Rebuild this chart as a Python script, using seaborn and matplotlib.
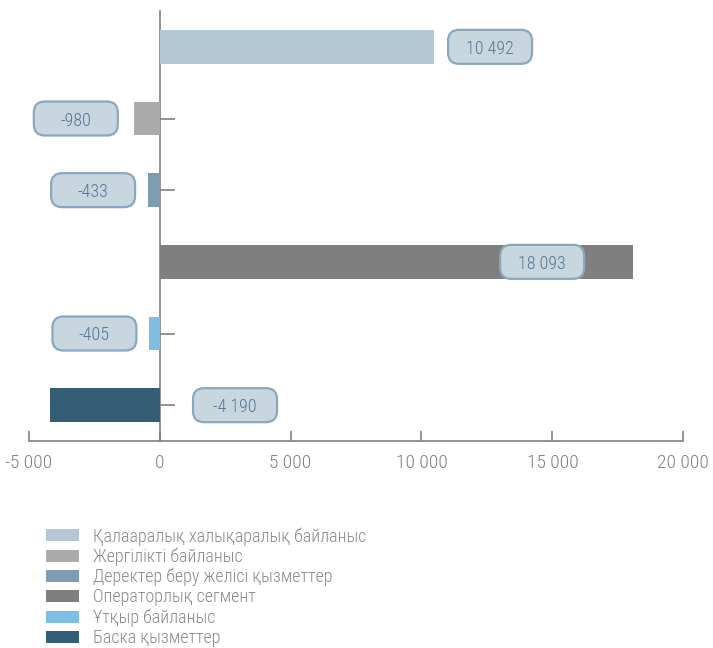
import matplotlib
matplotlib.use('Agg')
import matplotlib.pyplot as plt
from matplotlib.patches import FancyBboxPatch
import seaborn as sns
import pandas as pd

# данные
categories = ['Қалааралық халықаралық байланыс',
              'Жергілікті байланыс',
              'Деректер беру желісі қызметтер',
              'Операторлық сегмент',
              'Ұтқыр байланыс',
              'Баска қызметтер']
values = [10492, -980, -433, 18093, -405, -4190]
colors = ['#b4c7d4', '#aaaaaa', '#7f9db2', '#7f7f7f', '#80bde2', '#335e75']
x_ticks = [-5000, 0, 5000, 10000, 15000, 20000]

# где стоят подписи (центр рамки по x, в единицах данных)
label_x = [12620, -3200, -2540, 14610, -2490, 2880]

sns.set_style('white')
plt.rcParams['font.family'] = ['Roboto Condensed', 'DejaVu Sans']
plt.rcParams['font.weight'] = 'light'

df = pd.DataFrame({'cat': categories, 'val': values})

fig = plt.figure(figsize=(7.13, 6.48), dpi=100)
ax = fig.add_axes([28.7 / 713, 1 - 441 / 648, (683.3 - 28.7) / 713, (441 - 11) / 648])

sns.barplot(data=df, x='val', y='cat', hue='cat', palette=colors, orient='h',
            width=0.47, saturation=1, legend=True, ax=ax, linewidth=0, zorder=3)

ax.set_xlim(-5000, 20000)
ax.set_ylim(5.5, -0.5)
ax.set_xlabel('')
ax.set_ylabel('')

def fmt(v):
    s = f'{abs(v):,}'.replace(',', ' ')
    return ('-' if v < 0 else '') + s

ax.set_xticks(x_ticks)
ax.set_xticklabels([fmt(t) for t in x_ticks])

for sp in ['top', 'right']:
    ax.spines[sp].set_visible(False)
ax.spines['left'].set_position(('data', 0))
for sp in ['left', 'bottom']:
    ax.spines[sp].set_color('#808080')
    ax.spines[sp].set_linewidth(1.2)
ax.set_axisbelow(True)

ax.tick_params(axis='y', direction='in', length=11, width=1.2, color='#808080',
               labelleft=False, left=True)
ax.tick_params(axis='x', direction='in', length=7.2, width=1.2, color='#808080',
               labelsize=14, labelcolor='#808080', pad=9, bottom=True)

# подписи в рамках: рамка 84x34 px
px_x = 25000 / 654.6   # единиц данных на пиксель по x
px_y = 6 / 430         # единиц данных на пиксель по y
bw, bh = 84 * px_x, 34 * px_y
for i, v in enumerate(values):
    box = FancyBboxPatch((label_x[i] - bw / 2, i - bh / 2), bw, bh,
                         boxstyle=f'round,pad=0,rounding_size={11 * px_x}',
                         mutation_aspect=px_y / px_x,
                         fc='#c8d6e0', ec='#8ba7bc', lw=1.6, zorder=4)
    ax.add_patch(box)
    ax.text(label_x[i], i, fmt(v), ha='center', va='center_baseline',
            fontsize=13, color='#557790', zorder=5)

# легенда (последняя строка, как и в оригинале, почти у края)
handles, labels = ax.get_legend_handles_labels()
ax.get_legend().remove()
fig.legend(handles, labels, loc='upper left', bbox_to_anchor=(46 / 713, 1 - 527 / 648),
           frameon=False, fontsize=13, labelcolor='#8a8a8a', handlelength=1.85,
           handleheight=0.65, handletextpad=0.75, labelspacing=0.11, borderpad=0,
           borderaxespad=0)

plt.savefig('out.png', dpi=100)
